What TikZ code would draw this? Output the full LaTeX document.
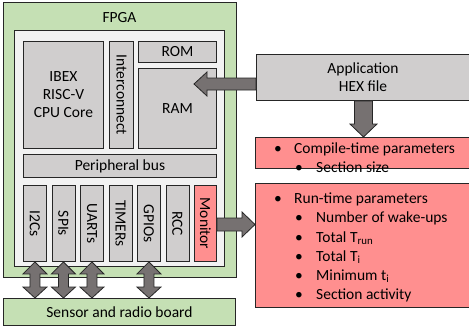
\documentclass[tikz,border=0pt]{standalone}
\usepackage{fontspec}
\setmainfont{Carlito}
\usetikzlibrary{calc}
\definecolor{fgreen}{HTML}{C5E0B4}
\definecolor{fgray}{HTML}{D0CECE}
\definecolor{finner}{HTML}{F2F2F2}
\definecolor{fred}{HTML}{FF8F8F}
\definecolor{farrow}{HTML}{767171}
\definecolor{fline}{HTML}{262626}
\begin{document}
\begin{tikzpicture}[x=1pt,y=-1pt,
  every node/.style={font=\fontsize{15.5}{18}\selectfont, inner sep=0pt, align=center},
  blk/.style={draw=fline, line width=0.9pt, anchor=north west, rectangle},
  graybox/.style={blk, fill=fgray},
  redbox/.style={blk, fill=fred},
  greenbox/.style={blk, fill=fgreen},
  vtext/.style={rotate=-90},
  barrow/.style={draw=fline, line width=0.8pt, fill=farrow, line join=miter},
  item/.style={anchor=base west},
]
\useasboundingbox (0,0) rectangle (469,330);
% FPGA
\node[greenbox, minimum width=233pt, minimum height=275pt] (fpga) at (3,2) {};
\node (fpgal) at (119.5,18) {FPGA};
\node[blk, fill=finner, minimum width=210pt, minimum height=236pt] (inner) at (14,30) {};
\node[graybox, minimum width=80pt, minimum height=107pt] (cpu) at (23,41) {};
\node at (cpu.center) {IBEX\\RISC-V\\CPU Core};
\node[graybox, minimum width=24pt, minimum height=107pt] (inter) at (109,41) {};
\node[vtext] at (inter.center) {Interconnect};
\node[graybox, minimum width=78pt, minimum height=21pt] (rom) at (138,41) {};
\node at (rom.center) {ROM};
\node[graybox, minimum width=78pt, minimum height=80pt] (ram) at (138,68) {};
\node at ($(ram.center)+(0,0)$) {RAM};
\node[graybox, minimum width=193pt, minimum height=23pt] (pbus) at (23,154) {};
\node at (pbus.center) {Peripheral bus};
% peripherals
\node[graybox, minimum width=23pt, minimum height=76pt] (i2c) at (23,185) {};
\node[vtext] at (i2c.center) {I2Cs};
\node[graybox, minimum width=23pt, minimum height=76pt] (spi) at (51.5,185) {};
\node[vtext] at (spi.center) {SPIs};
\node[graybox, minimum width=23pt, minimum height=76pt] (uart) at (80,185) {};
\node[vtext] at (uart.center) {UARTs};
\node[graybox, minimum width=23pt, minimum height=76pt] (timer) at (108.5,185) {};
\node[vtext] at (timer.center) {TIMERs};
\node[graybox, minimum width=23pt, minimum height=76pt] (gpio) at (137,185) {};
\node[vtext] at (gpio.center) {GPIOs};
\node[graybox, minimum width=23pt, minimum height=76pt] (rcc) at (165.5,185) {};
\node[vtext] at (rcc.center) {RCC};
\node[redbox, minimum width=22pt, minimum height=76pt] (mon) at (194,185) {};
\node[vtext] at (mon.center) {Monitor};
% sensor board
\node[greenbox, minimum width=232pt, minimum height=27pt] (sensor) at (3,298) {};
\node at (sensor.center) {Sensor and radio board};
% right side
\node[graybox, minimum width=216pt, minimum height=46pt] (app) at (256,54) {};
\node at (363,77) {Application\\HEX file};
\node[redbox, minimum width=217pt, minimum height=31pt] (comp) at (255,137) {};
\node[redbox, minimum width=217pt, minimum height=124pt] (run) at (255,183) {};
% compile-time text
\node[item] (c1b) at (274,153) {•};
\node[item] (c1) at (294,153) {Compile-time parameters};
\node[item] (c2b) at (295,172) {•};
\node[item] (c2) at (316,172) {Section size};
% run-time text
\node[item] (r1b) at (274,203) {•};
\node[item] (r1) at (294,203) {Run-time parameters};
\node[item] (r2b) at (295,222) {•};
\node[item] (r2) at (316,222) {Number of wake-ups};
\node[item] (r3b) at (295,242) {•};
\node[item] (r3) at (316,242) {Total $\mathrm{T}_{\mathrm{run}}$};
\node[item] (r4b) at (295,261) {•};
\node[item] (r4) at (316,261) {Total $\mathrm{T}_{\mathrm{i}}$};
\node[item] (r5b) at (295,280) {•};
\node[item] (r5) at (316,280) {Minimum t$_{\mathrm{i}}$};
\node[item] (r6b) at (295,299) {•};
\node[item] (r6) at (316,299) {Section activity};
% arrows
% App -> RAM
\coordinate (ramtip) at (194,84);
\draw[barrow] ($(app.west|-ramtip)+(0,-6)$) -- ($(ramtip)+(13,-6)$) -- ($(ramtip)+(13,-12)$) -- (ramtip)
  -- ($(ramtip)+(13,12)$) -- ($(ramtip)+(13,6)$) -- ($(app.west|-ramtip)+(0,6)$) -- cycle;
% App -> compile
\coordinate (ctip) at (363.5,137);
\draw[barrow] ($(ctip|-app.south)+(-9,0)$) -- ($(ctip)+(-9,-13)$) -- ($(ctip)+(-13.5,-13)$) -- (ctip)
  -- ($(ctip)+(13.5,-13)$) -- ($(ctip)+(9,-13)$) -- ($(ctip|-app.south)+(9,0)$) -- cycle;
% Monitor -> run
\coordinate (mtip) at (run.west|-0,224.5);
\draw[barrow] ($(mon.east|-mtip)+(0,-6.5)$) -- ($(mtip)+(-13,-6.5)$) -- ($(mtip)+(-13,-12.5)$) -- (mtip)
  -- ($(mtip)+(-13,12.5)$) -- ($(mtip)+(-13,6.5)$) -- ($(mon.east|-mtip)+(0,6.5)$) -- cycle;
% double arrows
\foreach \p in {i2c,spi,uart,gpio}{
  \draw[barrow] (\p.south) -- ($(\p.south)+(12,12)$) -- ($(\p.south)+(5,12)$) -- ($(\p.south|-sensor.north)+(5,-11)$)
    -- ($(\p.south|-sensor.north)+(12,-11)$) -- (\p.south|-sensor.north) -- ($(\p.south|-sensor.north)+(-12,-11)$)
    -- ($(\p.south|-sensor.north)+(-5,-11)$) -- ($(\p.south)+(-5,12)$) -- ($(\p.south)+(-12,12)$) -- cycle;
}
\end{tikzpicture}
\end{document}
